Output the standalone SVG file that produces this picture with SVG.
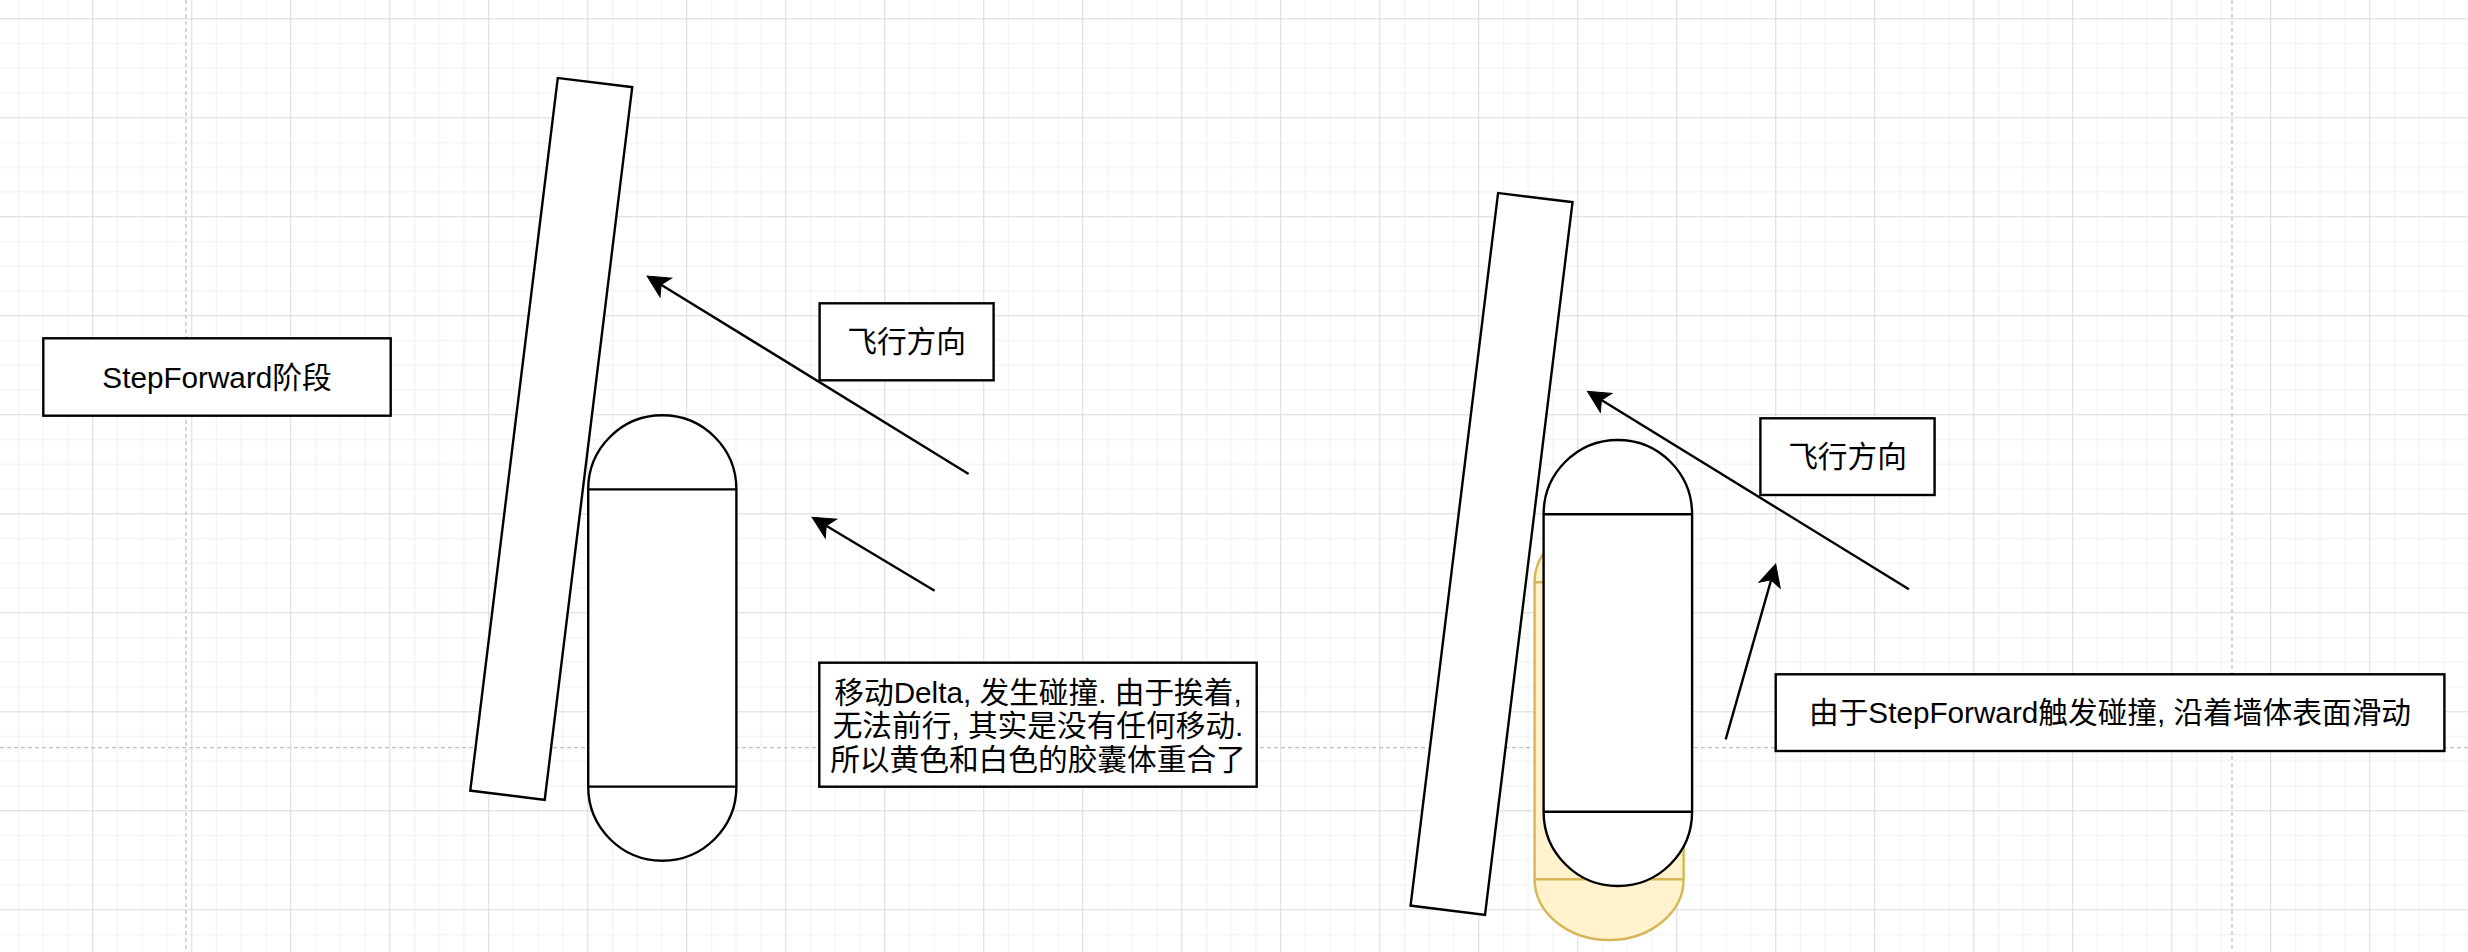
<svg xmlns="http://www.w3.org/2000/svg" width="2468" height="952" viewBox="0 0 2468 952">
<style>
.shape{fill:#ffffff;stroke:#000000;stroke-width:2.4}
.yel{fill:#fff2cc;stroke:#d6b656;stroke-width:2.4}
.ln{fill:none;stroke:#000000;stroke-width:2.4}
.edge{fill:none;stroke:#000000;stroke-width:2.4;marker-end:url(#arr)}
.txt{font-family:"Liberation Sans","Noto Sans CJK SC",sans-serif;font-size:29.7px;fill:#000000;text-anchor:middle}
.page{stroke:#c0c0c0;stroke-width:1.3;stroke-dasharray:4 3;fill:none}
</style>
<defs>
<pattern id="grid" patternUnits="userSpaceOnUse" x="92.3" y="18.3" width="99" height="99">
<rect width="99" height="99" fill="#ffffff"/>
<rect x="24.75" y="0" width="1" height="99" fill="#f0f0f0"/>
<rect x="49.5" y="0" width="1" height="99" fill="#f0f0f0"/>
<rect x="74.25" y="0" width="1" height="99" fill="#f0f0f0"/>
<rect x="0" y="24.75" width="99" height="1" fill="#f0f0f0"/>
<rect x="0" y="49.5" width="99" height="1" fill="#f0f0f0"/>
<rect x="0" y="74.25" width="99" height="1" fill="#f0f0f0"/>
<rect x="0" y="0" width="1" height="99" fill="#d9d9d9"/>
<rect x="0" y="0" width="99" height="1" fill="#d9d9d9"/>
</pattern>
<marker id="arr" markerUnits="userSpaceOnUse" viewBox="-24 -12 25 24" markerWidth="25" markerHeight="24" refX="-16" refY="0" orient="auto" overflow="visible">
<path d="M0,0 L-22,-11 L-16.5,0 L-22,11 Z" fill="#000000" stroke="#000000" stroke-width="1"/>
</marker>
</defs>

<g id="background">
<rect x="0" y="0" width="2468" height="952" fill="url(#grid)"/>
<line class="page" x1="186" y1="0" x2="186" y2="952"/>
<line class="page" x1="2232" y1="0" x2="2232" y2="952"/>
<line class="page" x1="0" y1="747.7" x2="2468" y2="747.7"/>
</g>

<g id="label-stepforward">
<rect class="shape" x="43.3" y="338.3" width="347.4" height="77.4"/>
<text class="txt" x="217" y="387.5">StepForward阶段</text>
</g>

<g id="wall-left">
<rect class="shape" x="513.75" y="79.9" width="75" height="718" transform="rotate(7 551.25 438.9)"/>
</g>

<g id="capsule-left">
<path class="shape" d="M588.2,489.4 A74.1,74.1 0 0 1 736.4,489.4 L736.4,786.6 A74.1,74.1 0 0 1 588.2,786.6 Z"/>
<line class="ln" x1="588.2" y1="489.4" x2="736.4" y2="489.4"/>
<line class="ln" x1="588.2" y1="786.6" x2="736.4" y2="786.6"/>
</g>

<g id="dir-left">
<rect class="shape" x="819.6" y="303.3" width="174" height="77"/>
<text class="txt" x="906.6" y="352">飞行方向</text>
</g>

<g id="note-left">
<rect class="shape" x="819.3" y="662.7" width="437.4" height="124"/>
<text class="txt" x="1038" y="702.5">移动Delta, 发生碰撞. 由于挨着,</text>
<text class="txt" x="1038" y="736">无法前行, 其实是没有任何移动.</text>
<text class="txt" x="1038" y="769.5">所以黄色和白色的胶囊体重合了</text>
</g>

<g id="wall-right">
<rect class="shape" x="1454.05" y="194.9" width="75" height="718" transform="rotate(7 1491.55 553.9)"/>
</g>

<g id="capsule-yellow">
<path class="yel" d="M1534.6,582.3 A74.5,60.7 0 0 1 1683.6,582.3 L1683.6,879.3 A74.5,60.7 0 0 1 1534.6,879.3 Z"/>
<line class="yel" x1="1534.6" y1="582.3" x2="1683.6" y2="582.3"/>
<line class="yel" x1="1534.6" y1="879.3" x2="1683.6" y2="879.3"/>
</g>

<g id="capsule-right">
<path class="shape" d="M1543.6,514.25 A74.25,74.25 0 0 1 1692.1,514.25 L1692.1,811.75 A74.25,74.25 0 0 1 1543.6,811.75 Z"/>
<line class="ln" x1="1543.6" y1="514.25" x2="1692.1" y2="514.25"/>
<line class="ln" x1="1543.6" y1="811.75" x2="1692.1" y2="811.75"/>
</g>

<g id="dir-right">
<rect class="shape" x="1760.4" y="418.3" width="174.2" height="76.7"/>
<text class="txt" x="1847.5" y="467">飞行方向</text>
</g>

<g id="note-right">
<rect class="shape" x="1775.7" y="674.3" width="668.7" height="76.7"/>
<text class="txt" x="2110" y="723">由于StepForward触发碰撞, 沿着墙体表面滑动</text>
</g>

<g id="connectors">
<line class="edge" x1="968.6" y1="474" x2="660.7" y2="284.4"/>
<line class="edge" x1="934.6" y1="590.7" x2="825.8" y2="525.5"/>
<line class="edge" x1="1908.9" y1="589.3" x2="1601" y2="399.7"/>
<line class="edge" x1="1725.7" y1="739.3" x2="1771.3" y2="579.4"/>
</g>
</svg>
